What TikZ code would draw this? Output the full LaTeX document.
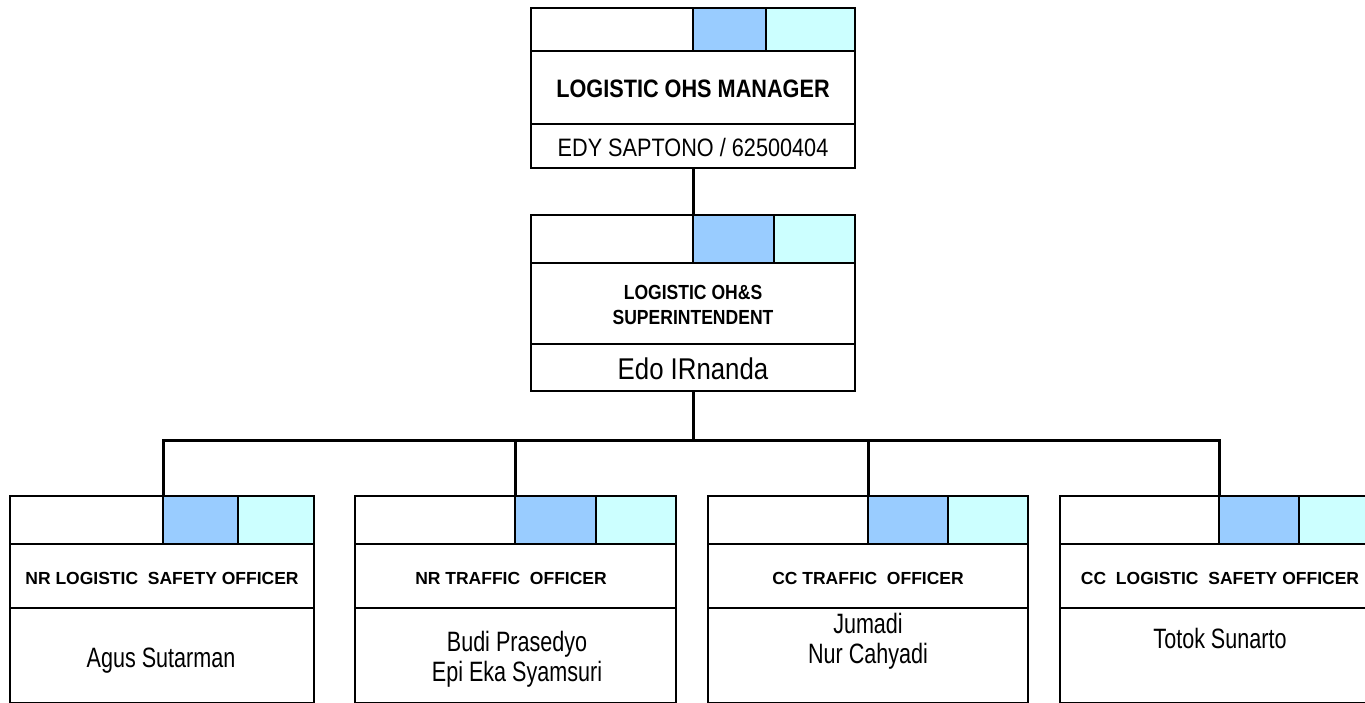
\documentclass[tikz,border=0pt]{standalone}
\usepackage{fontspec}
\setmainfont{Liberation Sans}
\newfontfamily\fA[FakeStretch=0.86]{Liberation Sans}
\newfontfamily\fB{Liberation Sans}
\newfontfamily\fC[FakeStretch=0.77]{Liberation Sans}
\definecolor{cblue}{HTML}{99CCFF}
\definecolor{ccyan}{HTML}{CCFFFF}
\begin{document}
\begin{tikzpicture}[x=1pt,y=-1pt,
  cell/.style={draw=black, line width=2.4pt, inner sep=0pt, outer sep=0pt, anchor=north west, fill=white},
  bluecell/.style={cell, fill=cblue},
  cyancell/.style={cell, fill=ccyan},
  txt/.style={inner sep=0pt, anchor=base, align=center},
  bigtitle/.style={txt, font=\fA\bfseries\fontsize{25.2}{30}\selectfont},
  bigname/.style={txt, font=\fA\fontsize{25.2}{30}\selectfont},
  midtitle/.style={txt, font=\fA\bfseries\fontsize{20.4}{25}\selectfont},
  midname/.style={txt, font=\fA\fontsize{30}{36}\selectfont},
  smalltitle/.style={txt, font=\fB\bfseries\fontsize{17.5}{21}\selectfont},
  smallname/.style={txt, font=\fC\fontsize{28}{29.5}\selectfont},
  link/.style={draw=black, line width=3pt}]
\useasboundingbox (0,0) rectangle (1365,703);
\clip (0,0) rectangle (1365,703);
\fill[white] (0,0) rectangle (1365,703);

% top box
\node[cell, minimum width=162pt, minimum height=43pt] (t-a) at (531,8) {};
\node[bluecell, minimum width=73pt, minimum height=43pt] (t-b) at (693,8) {};
\node[cyancell, minimum width=89pt, minimum height=43pt] (t-c) at (766,8) {};
\node[cell, minimum width=324pt, minimum height=73pt] (t-t) at (531,51) {};
\node[cell, minimum width=324pt, minimum height=44pt] (t-n) at (531,124) {};
\node[bigtitle] (t-tt) at (693,98) {LOGISTIC OHS MANAGER};
\node[bigname] (t-nt) at (693,157) {EDY SAPTONO / 62500404};

% middle box
\node[cell, minimum width=162pt, minimum height=48pt] (m-a) at (531,215) {};
\node[bluecell, minimum width=81pt, minimum height=48pt] (m-b) at (693,215) {};
\node[cyancell, minimum width=81pt, minimum height=48pt] (m-c) at (774,215) {};
\node[cell, minimum width=324pt, minimum height=81pt] (m-t) at (531,263) {};
\node[cell, minimum width=324pt, minimum height=47pt] (m-n) at (531,344) {};
\node[midtitle] (m-tt) at (693,324) {LOGISTIC OH\&S\\SUPERINTENDENT};
\node[midname] (m-nt) at (693,379) {Edo IRnanda};

% bottom box 1
\node[cell, minimum width=153pt, minimum height=48pt] (b1-a) at (10,496) {};
\node[bluecell, minimum width=75pt, minimum height=48pt] (b1-b) at (163,496) {};
\node[cyancell, minimum width=76pt, minimum height=48pt] (b1-c) at (238,496) {};
\node[cell, minimum width=304pt, minimum height=64pt] (b1-t) at (10,544) {};
\node[cell, minimum width=304pt, minimum height=95pt] (b1-n) at (10,608) {};
\node[smalltitle] (b1-tt) at (162,584) {NR LOGISTIC\ \ SAFETY OFFICER};
\node[smallname] (b1-nt) at (161,667) {Agus Sutarman};

% bottom box 2
\node[cell, minimum width=160pt, minimum height=48pt] (b2-a) at (355,496) {};
\node[bluecell, minimum width=81pt, minimum height=48pt] (b2-b) at (515,496) {};
\node[cyancell, minimum width=80pt, minimum height=48pt] (b2-c) at (596,496) {};
\node[cell, minimum width=321pt, minimum height=64pt] (b2-t) at (355,544) {};
\node[cell, minimum width=321pt, minimum height=95pt] (b2-n) at (355,608) {};
\node[smalltitle] (b2-tt) at (511,584) {NR TRAFFIC\ \ OFFICER};
\node[smallname] (b2-nt) at (517,681) {Budi Prasedyo\\Epi Eka Syamsuri};

% bottom box 3
\node[cell, minimum width=160pt, minimum height=48pt] (b3-a) at (708,496) {};
\node[bluecell, minimum width=80pt, minimum height=48pt] (b3-b) at (868,496) {};
\node[cyancell, minimum width=80pt, minimum height=48pt] (b3-c) at (948,496) {};
\node[cell, minimum width=320pt, minimum height=64pt] (b3-t) at (708,544) {};
\node[cell, minimum width=320pt, minimum height=95pt] (b3-n) at (708,608) {};
\node[smalltitle] (b3-tt) at (868,584) {CC TRAFFIC\ \ OFFICER};
\node[smallname] (b3-nt) at (868,663) {Jumadi\\Nur Cahyadi};

% bottom box 4
\node[cell, minimum width=159pt, minimum height=48pt] (b4-a) at (1060,496) {};
\node[bluecell, minimum width=80pt, minimum height=48pt] (b4-b) at (1219,496) {};
\node[cyancell, minimum width=81pt, minimum height=48pt] (b4-c) at (1299,496) {};
\node[cell, minimum width=320pt, minimum height=64pt] (b4-t) at (1060,544) {};
\node[cell, minimum width=320pt, minimum height=95pt] (b4-n) at (1060,608) {};
\node[smalltitle] (b4-tt) at (1220,584) {CC\ \ LOGISTIC\ \ SAFETY OFFICER};
\node[smallname] (b4-nt) at (1220,648) {Totok Sunarto};

% connectors
\coordinate (j) at (693,440);
\draw[link] (t-n.south) -- (m-b.north west);
\draw[link] (m-n.south) -- (j);
\draw[link] (b1-b.north west) -- (b1-b.north west |- j) -- (b4-b.north west |- j) -- (b4-b.north west);
\draw[link] (b2-b.north west) -- (b2-b.north west |- j);
\draw[link] (b3-b.north west) -- (b3-b.north west |- j);
\end{tikzpicture}
\end{document}
